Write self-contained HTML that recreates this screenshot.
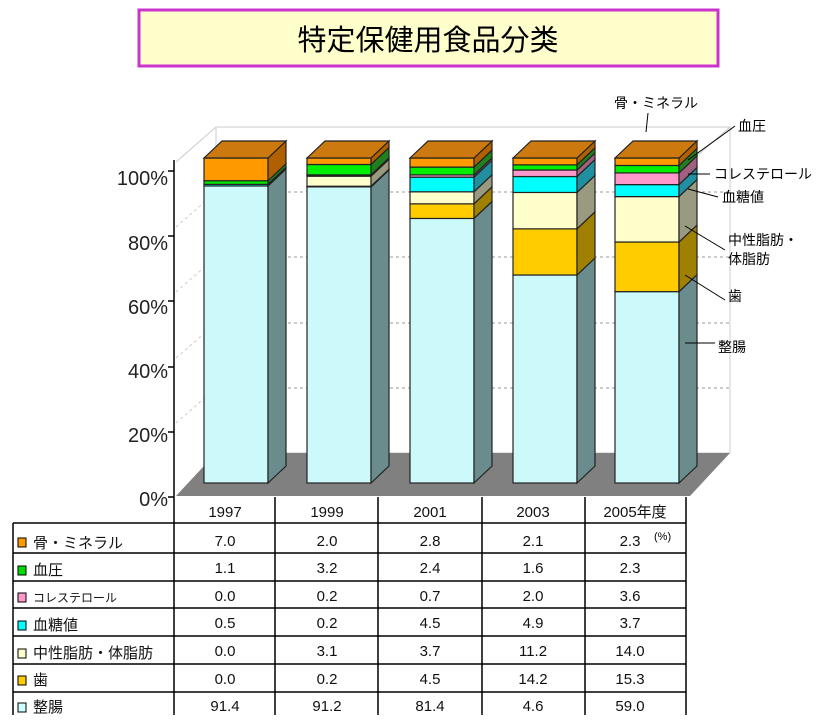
<!DOCTYPE html>
<html><head><meta charset="utf-8"><style>
body{margin:0;background:#fff;width:833px;height:715px;overflow:hidden;font-family:"Liberation Sans","Noto Sans CJK JP",sans-serif}
</style></head><body>
<svg id="s" width="833" height="715" viewBox="0 0 833 715" xmlns="http://www.w3.org/2000/svg" font-family="Liberation Sans, Noto Sans CJK JP, sans-serif">
<rect x="139" y="10" width="579" height="56" fill="#ffffcc" stroke="#cc33cc" stroke-width="3"/>
<text x="428" y="50" font-size="29" text-anchor="middle" fill="#000" font-family="Noto Sans CJK JP, sans-serif">特定保健用食品分类</text>
<!-- back wall -->
<polygon points="216,127 730,127 730,453 216,453" fill="#fff" stroke="#ccc"/>
<line x1="216" y1="127" x2="176" y2="162" stroke="#ccc"/>
<line x1="730" y1="127" x2="690" y2="162" stroke="#ccc"/>
<g stroke="#999" stroke-dasharray="3,3">
<line x1="216" y1="192" x2="730" y2="192"/><line x1="216" y1="257" x2="730" y2="257"/>
<line x1="216" y1="323" x2="730" y2="323"/><line x1="216" y1="388" x2="730" y2="388"/>
</g>
<g stroke="#ccc" stroke-dasharray="3,3">
<line x1="176" y1="227" x2="216" y2="192"/><line x1="176" y1="292" x2="216" y2="257"/>
<line x1="176" y1="358" x2="216" y2="323"/><line x1="176" y1="423" x2="216" y2="388"/>
</g>
<polygon points="176,496 690,496 730,453 216,453" fill="#808080"/>
<line x1="174" y1="160" x2="174" y2="497" stroke="#000" stroke-width="1.5"/>
<g stroke="#000" stroke-width="1.5">
<line x1="168" y1="171" x2="174" y2="171"/><line x1="168" y1="236" x2="174" y2="236"/><line x1="168" y1="301" x2="174" y2="301"/><line x1="168" y1="367" x2="174" y2="367"/><line x1="168" y1="432" x2="174" y2="432"/><line x1="168" y1="497" x2="174" y2="497"/>
</g>
<g font-size="20" text-anchor="end" fill="#222">
<text x="168" y="185">100%</text><text x="168" y="250">80%</text><text x="168" y="314">60%</text><text x="168" y="378">40%</text><text x="168" y="442">20%</text><text x="168" y="506">0%</text>
</g>
<g id="bars"></g>
<!-- annotations -->
<g stroke="#000" stroke-width="1">
<line x1="648" y1="113" x2="646" y2="132"/>
<line x1="735" y1="126" x2="688" y2="160"/>
<line x1="710" y1="174" x2="688" y2="174"/>
<line x1="718" y1="197" x2="688" y2="189"/>
<line x1="725" y1="250" x2="685" y2="226"/>
<line x1="725" y1="300" x2="685" y2="275"/>
<line x1="715" y1="343" x2="685" y2="343"/>
</g>
<g font-size="14" fill="#000">
<text x="614" y="108">骨・ミネラル</text>
<text x="738" y="131">血圧</text>
<text x="714" y="179">コレステロール</text>
<text x="722" y="202">血糖値</text>
<text x="728" y="245">中性脂肪・</text>
<text x="728" y="264">体脂肪</text>
<text x="728" y="301">歯</text>
<text x="718" y="352">整腸</text>
</g>
<!-- table -->
<g stroke="#000" stroke-width="1.5" fill="none">
<line x1="174" y1="497" x2="174" y2="715"/>
<line x1="275" y1="497" x2="275" y2="715"/><line x1="378" y1="497" x2="378" y2="715"/><line x1="482" y1="497" x2="482" y2="715"/><line x1="585" y1="497" x2="585" y2="715"/><line x1="686" y1="497" x2="686" y2="715"/>
<line x1="13" y1="523" x2="13" y2="715"/>
<line x1="13" y1="523" x2="686" y2="523"/><line x1="13" y1="553" x2="686" y2="553"/><line x1="13" y1="581" x2="686" y2="581"/><line x1="13" y1="608" x2="686" y2="608"/><line x1="13" y1="636" x2="686" y2="636"/><line x1="13" y1="664" x2="686" y2="664"/><line x1="13" y1="692" x2="686" y2="692"/>
</g>
<g font-size="15" text-anchor="middle" fill="#111">
<text x="225" y="517">1997</text><text x="327" y="517">1999</text><text x="430" y="517">2001</text><text x="533" y="517">2003</text><text x="635" y="517">2005年度</text>
<text x="225" y="546">7.0</text><text x="327" y="546">2.0</text><text x="430" y="546">2.8</text><text x="533" y="546">2.1</text><text x="630" y="546">2.3</text>
<text x="225" y="573">1.1</text><text x="327" y="573">3.2</text><text x="430" y="573">2.4</text><text x="533" y="573">1.6</text><text x="630" y="573">2.3</text>
<text x="225" y="601">0.0</text><text x="327" y="601">0.2</text><text x="430" y="601">0.7</text><text x="533" y="601">2.0</text><text x="630" y="601">3.6</text>
<text x="225" y="628">0.5</text><text x="327" y="628">0.2</text><text x="430" y="628">4.5</text><text x="533" y="628">4.9</text><text x="630" y="628">3.7</text>
<text x="225" y="656">0.0</text><text x="327" y="656">3.1</text><text x="430" y="656">3.7</text><text x="533" y="656">11.2</text><text x="630" y="656">14.0</text>
<text x="225" y="684">0.0</text><text x="327" y="684">0.2</text><text x="430" y="684">4.5</text><text x="533" y="684">14.2</text><text x="630" y="684">15.3</text>
<text x="225" y="711">91.4</text><text x="327" y="711">91.2</text><text x="430" y="711">81.4</text><text x="533" y="711">4.6</text><text x="630" y="711">59.0</text>
</g>
<text x="654" y="540" font-size="11">(%)</text>
<g stroke="#000" stroke-width="1">
<rect x="18" y="538" width="8" height="9" fill="#ff9900"/>
<rect x="18" y="566" width="8" height="9" fill="#00dd00"/>
<rect x="18" y="593" width="8" height="9" fill="#ff99cc"/>
<rect x="18" y="621" width="8" height="9" fill="#00ffff"/>
<rect x="18" y="649" width="8" height="9" fill="#ffffcc"/>
<rect x="18" y="676" width="8" height="9" fill="#ffcc00"/>
<rect x="18" y="703" width="8" height="9" fill="#ccffff"/>
</g>
<g font-size="15" fill="#111">
<text x="33" y="548">骨・ミネラル</text>
<text x="33" y="575">血圧</text>
<text x="33" y="602" font-size="12">コレステロール</text>
<text x="33" y="630">血糖値</text>
<text x="33" y="658">中性脂肪・体脂肪</text>
<text x="33" y="685">歯</text>
<text x="33" y="712">整腸</text>
</g>
</svg>
<script>
var data=[[91.4,0,0,0.5,0,1.1,7.0],[91.2,0.2,3.1,0.2,0.2,3.2,2.0],[81.4,4.5,3.7,4.5,0.7,2.4,2.8],[64,14.2,11.2,4.9,2.0,1.6,2.1],[59,15.3,14.0,3.7,3.6,2.3,2.3]];
var front=["#ccfafa","#ffcc00","#ffffcc","#00ffff","#ff99cc","#00ee00","#ff9900"];
var side=["#6b8c8c","#a08000","#9a9a80","#2090a0","#a06080","#208020","#b06000"];
var xs=[204,307,410,513,615],W=64,dx=18,dy=-17,base=483,k=3.25;
var g=document.getElementById('bars'),h='';
data.forEach(function(d,i){var tot=d.reduce(function(a,b){return a+b},0);var y=base,x=xs[i];
d.forEach(function(v,j){v=v*100/tot;if(v<=0)return;var hh=v*k,y2=y-hh;
h+='<rect x="'+x+'" y="'+y2+'" width="'+W+'" height="'+hh+'" fill="'+front[j]+'" stroke="#222" stroke-width="1.2"/>';
h+='<polygon points="'+(x+W)+','+y+' '+(x+W+dx)+','+(y+dy)+' '+(x+W+dx)+','+(y2+dy)+' '+(x+W)+','+y2+'" fill="'+side[j]+'" stroke="#222" stroke-width="1.2"/>';
y=y2;});
h+='<polygon points="'+x+','+y+' '+(x+dx)+','+(y+dy)+' '+(x+W+dx)+','+(y+dy)+' '+(x+W)+','+y+'" fill="#cc7a10" stroke="#222" stroke-width="1.2"/>';});
g.innerHTML=h;
</script>
</body></html>
